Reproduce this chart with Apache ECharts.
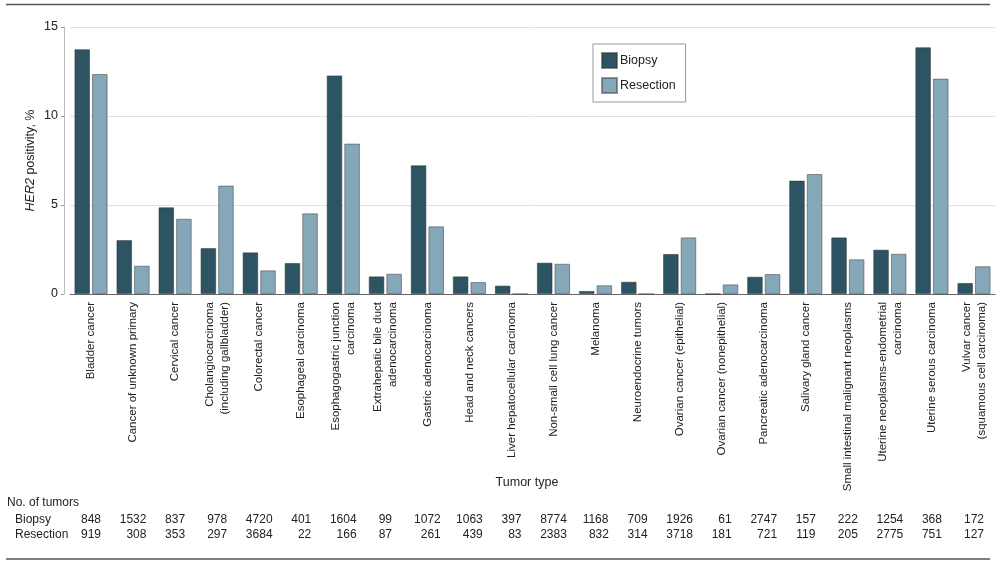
<!DOCTYPE html>
<html>
<head>
<meta charset="utf-8">
<script src="https://cdn.jsdelivr.net/npm/echarts@6/dist/echarts.min.js"></script>
<style>html,body{margin:0;padding:0;background:#fff}#c{width:1000px;height:565px}</style>
</head>
<body>
<div id="c"></div>
<script>
const categories = [
  "Bladder cancer", "Cancer of unknown primary", "Cervical cancer",
  "Cholangiocarcinoma\n(including gallbladder)", "Colorectal cancer", "Esophageal carcinoma",
  "Esophagogastric junction\ncarcinoma", "Extrahepatic bile duct\nadenocarcinoma",
  "Gastric adenocarcinoma", "Head and neck cancers", "Liver hepatocellular carcinoma",
  "Non-small cell lung cancer", "Melanoma", "Neuroendocrine tumors",
  "Ovarian cancer (epithelial)", "Ovarian cancer (nonepithelial)", "Pancreatic adenocarcinoma",
  "Salivary gland cancer", "Small intestinal malignant neoplasms",
  "Uterine neoplasms-endometrial\ncarcinoma", "Uterine serous carcinoma",
  "Vulvar cancer\n(squamous cell carcinoma)"
];
const biopsyPct = [13.75, 3.03, 4.87, 2.58, 2.34, 1.74, 12.28, 0.99, 7.23, 0.99, 0.47,
  1.76, 0.17, 0.69, 2.25, 0, 0.97, 6.37, 3.18, 2.49, 13.86, 0.62];
const resectionPct = [12.36, 1.59, 4.23, 6.09, 1.33, 4.53, 8.45, 1.14, 3.80, 0.67, 0,
  1.70, 0.49, 0, 3.18, 0.54, 1.12, 6.74, 1.95, 2.26, 12.10, 1.56];
const biopsyN = [848, 1532, 837, 978, 4720, 401, 1604, 99, 1072, 1063, 397,
  8774, 1168, 709, 1926, 61, 2747, 157, 222, 1254, 368, 172];
const resectionN = [919, 308, 353, 297, 3684, 22, 166, 87, 261, 439, 83,
  2383, 832, 314, 3718, 181, 721, 119, 205, 2775, 751, 127];
const yTicks = [0, 5, 10, 15];

const FONT = "'Liberation Sans', Arial, sans-serif";
const DARK = '#2c5462';
const LIGHT = '#85a8b9';

function padded(arr, other, i) {
  const a = String(arr[i]), b = String(other[i]);
  const len = Math.max(a.length, b.length);
  return '\u2007'.repeat(len - a.length) + a;
}

const chart = echarts.init(document.getElementById('c'));
const countAxis = (arr, other, off) => ({
  type: 'category', data: categories, gridIndex: 0, position: 'bottom', offset: off,
  axisLine: {show: false}, axisTick: {show: false}, splitLine: {show: false},
  axisLabel: {interval: 0, margin: 0, fontSize: 12, color: '#222', fontFamily: FONT,
    verticalAlign: 'middle',
    formatter: (v, i) => padded(arr, other, i)}
});

chart.setOption({
  animation: false,
  textStyle: {fontFamily: FONT},
  grid: {left: 70, right: 5, top: 27, bottom: 271, containLabel: false},
  legend: {
    orient: 'vertical', left: 593, top: 44, padding: [8, 10, 8, 8],
    borderColor: '#999', borderWidth: 1, itemWidth: 15, itemHeight: 15, itemGap: 8,
    icon: 'rect',
    textStyle: {fontSize: 12.5, color: '#222', fontFamily: FONT, padding: [0, 0, 0, -2]},
    data: ['Biopsy', 'Resection']
  },
  xAxis: [
    {
      type: 'category', data: categories,
      axisLine: {show: true, lineStyle: {color: '#666', width: 1}},
      axisTick: {show: false},
      axisLabel: {interval: 0, rotate: 90, margin: 8, fontSize: 11.5, lineHeight: 15,
        color: '#222', fontFamily: FONT}
    },
    countAxis(biopsyN, resectionN, 226),
    countAxis(resectionN, biopsyN, 241)
  ],
  yAxis: {
    type: 'value', min: yTicks[0], max: yTicks[yTicks.length - 1], interval: 5, offset: 6,
    axisLine: {show: true, lineStyle: {color: '#bbb'}},
    axisTick: {show: true, length: 3, lineStyle: {color: '#999'}},
    splitLine: {show: true, lineStyle: {color: '#e2e2e2'}},
    axisLabel: {fontSize: 12.5, color: '#222', margin: 6, fontFamily: FONT},
    name: '{i|HER2} positivity, %', nameLocation: 'middle', nameGap: 27,
    nameMoveOverlap: false,
    nameTextStyle: {fontSize: 12.5, color: '#222', fontFamily: FONT,
      rich: {i: {fontStyle: 'italic', fontSize: 12.5, color: '#222', fontFamily: FONT}}}
  },
  series: [
    {name: 'Biopsy', type: 'bar', data: biopsyPct, barGap: '13%', barCategoryGap: '21%',
      itemStyle: {color: DARK, borderColor: 'rgba(50,50,50,0.55)', borderWidth: 1}},
    {name: 'Resection', type: 'bar', data: resectionPct,
      itemStyle: {color: LIGHT, borderColor: 'rgba(70,70,70,0.55)', borderWidth: 1}}
  ],
  graphic: [
    {type: 'line', shape: {x1: 6, y1: 4.5, x2: 990, y2: 4.5}, style: {stroke: '#555', lineWidth: 1.5}},
    {type: 'line', shape: {x1: 6, y1: 559, x2: 990, y2: 559}, style: {stroke: '#555', lineWidth: 1.5}},
    {type: 'text', style: {text: 'Tumor type', x: 527, y: 483,
      textAlign: 'center', textVerticalAlign: 'middle', fontSize: 12.5, fill: '#222', fontFamily: FONT}},
    {type: 'text', style: {text: 'No. of tumors', x: 7, y: 503, textVerticalAlign: 'middle',
      fontSize: 12, fill: '#222', fontFamily: FONT}},
    {type: 'text', style: {text: 'Biopsy', x: 15, y: 519.5, textVerticalAlign: 'middle',
      fontSize: 12, fill: '#222', fontFamily: FONT}},
    {type: 'text', style: {text: 'Resection', x: 15, y: 535, textVerticalAlign: 'middle',
      fontSize: 12, fill: '#222', fontFamily: FONT}}
  ]
});
</script>
</body>
</html>
